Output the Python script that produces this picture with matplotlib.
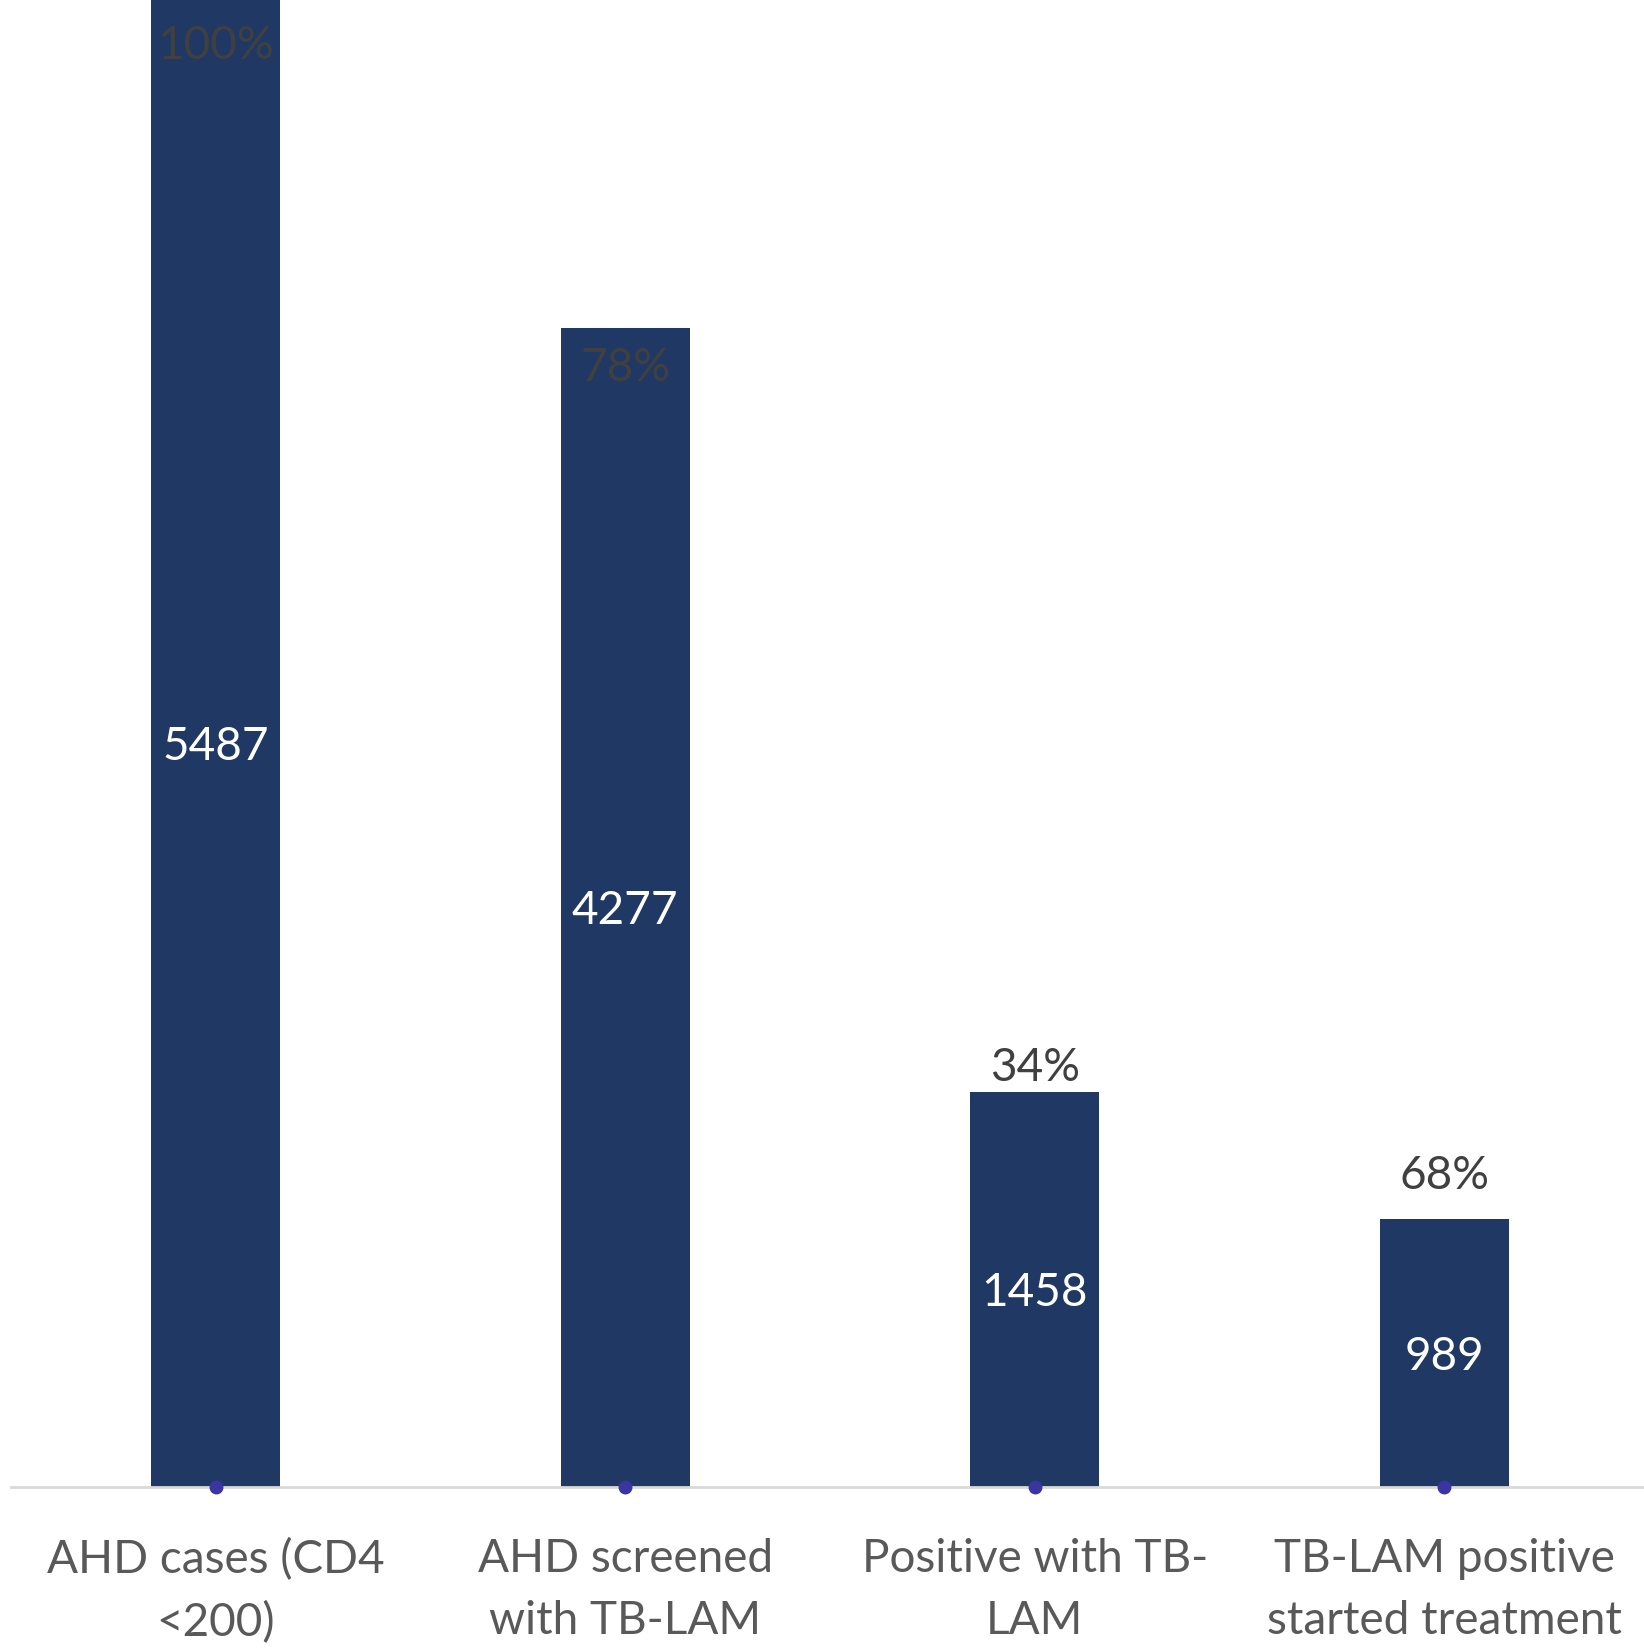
import numpy as np
import matplotlib
matplotlib.use('Agg')
import matplotlib.pyplot as plt

plt.rcParams['font.family'] = ['Lato', 'DejaVu Sans']

categories = ['AHD cases (CD4\n<200)', 'AHD screened\nwith TB-LAM',
              'Positive with TB-\nLAM', 'TB-LAM positive\nstarted treatment']
counts = [5487, 4277, 1458, 989]
percents = ['100%', '78%', '34%', '68%']

bar_color = '#203864'
pct_color = '#404040'
cat_color = '#595959'

fig = plt.figure(figsize=(16.44, 16.52), dpi=100)
ax = fig.add_axes([11 / 1644, 165 / 1652, 1638 / 1644, 1487 / 1652])

x = np.arange(len(counts))
bars = ax.bar(x, counts, width=0.315, color=bar_color, zorder=2)

# count labels in the middle of each bar
for xi, c in zip(x, counts):
    ax.text(xi, c / 2, str(c), ha='center', va='center_baseline', color='white', fontsize=33)

# percent labels: inside the top for tall bars, above for short ones (offset in px)
pct_offsets = [-46, -40, 24, 43]
for xi, c, p, off in zip(x, counts, percents, pct_offsets):
    ax.annotate(p, (xi, c), xytext=(0, off * 0.72), textcoords='offset points',
                ha='center', va='center', color=pct_color, fontsize=33)

# small markers sitting on the axis line
ax.plot(x, np.zeros(len(x)), 'o', color='#3a35a0', markersize=9, clip_on=False, zorder=4)

ax.set_xlim(-0.5, 3.5)
ax.set_ylim(0, 5487)
ax.set_xticks(x)
ax.set_xticklabels(categories, fontsize=33, color=cat_color, linespacing=1.57)
ax.tick_params(axis='x', length=0, pad=37)
ax.set_yticks([])
for s in ['top', 'right', 'left']:
    ax.spines[s].set_visible(False)
ax.spines['bottom'].set_color('#d9d9d9')
ax.spines['bottom'].set_linewidth(2)
ax.spines['bottom'].set_zorder(3)

fig.savefig('out.png', dpi=100)
